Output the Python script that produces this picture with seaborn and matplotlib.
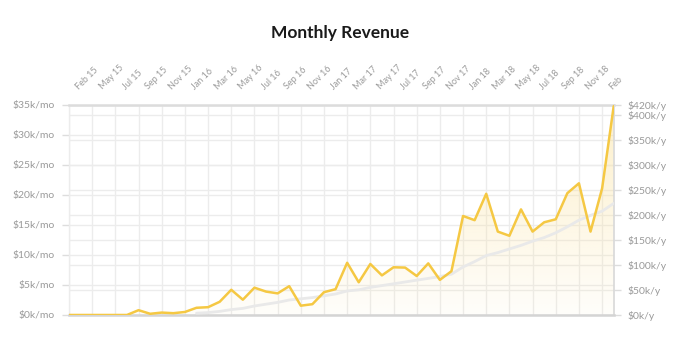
import numpy as np
import pandas as pd
import matplotlib
matplotlib.use("Agg")
import matplotlib.pyplot as plt
import seaborn as sns

# ---- data (values in $k per month) ----
revenue = [0, 0, 0, 0, 0, 0, 0.8, 0.2, 0.4, 0.3, 0.5, 1.2,
           1.3, 2.2, 4.2, 2.55, 4.55, 3.9, 3.6, 4.8, 1.55, 1.8, 3.8, 4.3,
           8.7, 5.45, 8.5, 6.6, 7.95, 7.9, 6.5, 8.6, 5.85, 7.3, 16.5, 15.8,
           20.2, 13.9, 13.2, 17.6, 13.9, 15.45, 15.95, 20.3, 21.95, 13.9, 21.1, 34.8]
trend = [np.nan] * 11 + [0.3, 0.4, 0.6, 0.9, 1.1, 1.5, 1.8, 2.1, 2.5, 2.7, 2.9, 3.2,
                         3.5, 4.0, 4.2, 4.6, 4.9, 5.2, 5.5, 5.8, 6.1, 6.4, 6.8, 8.0,
                         8.9, 9.9, 10.4, 11.0, 11.6, 12.3, 12.9, 13.7, 14.7, 15.8, 16.6, 17.3, 18.6]
tick_labels = ["Feb 15", "May 15", "Jul 15", "Sep 15", "Nov 15", "Jan 16", "Mar 16", "May 16",
               "Jul 16", "Sep 16", "Nov 16", "Jan 17", "Mar 17", "May 17", "Jul 17", "Sep 17",
               "Nov 17", "Jan 18", "Mar 18", "May 18", "Jul 18", "Sep 18", "Nov 18", "Feb"]
left_ticks = [0, 5, 10, 15, 20, 25, 30, 35]
right_ticks = [0, 50, 100, 150, 200, 250, 300, 350, 400, 420]

df = pd.DataFrame({"month": np.arange(len(revenue)), "revenue": revenue, "trend": trend})

sns.set_theme(style="white")
plt.rcParams["font.family"] = ["Lato", "DejaVu Sans"]

YELLOW = "#F5C843"
GRID = "#ececec"
LABEL = "#9a9a9a"

fig = plt.figure(figsize=(6.8, 3.45), dpi=100)
ax = fig.add_axes([0.1015, 0.087, 0.8010, 0.6087])

n = len(revenue)
ax.set_xlim(0, n - 1)
ax.set_ylim(0, 35)

# gradient fill under the revenue line
grad = np.zeros((256, 2, 4))
rgb = matplotlib.colors.to_rgb("#FBE3A0")
grad[..., 0], grad[..., 1], grad[..., 2] = rgb
grad[..., 3] = np.linspace(0.55, 0.05, 256)[:, None]
im = ax.imshow(grad, extent=[0, n - 1, 0, 35], origin="upper", aspect="auto", zorder=1)
poly = ax.fill_between(df["month"], df["revenue"], 0, color="none", lw=0)
im.set_clip_path(poly.get_paths()[0], transform=ax.transData)

sns.lineplot(data=df, x="month", y="trend", ax=ax, color="#e9e9e9", lw=2, zorder=3)
sns.lineplot(data=df, x="month", y="revenue", ax=ax, color=YELLOW, lw=1.8, zorder=4)

# left axis
ax.set_yticks(left_ticks)
ax.set_yticklabels([f"${v}k/mo" for v in left_ticks])
ax.tick_params(axis="y", which="major", left=True, length=5, width=1, color="#dddddd",
               labelsize=7.5, labelcolor=LABEL, pad=5)
ax.set_ylabel("")
ax.set_xlabel("")

# x axis: labels on top, gridlines every 2 months
ax.set_xticks(np.arange(0, n - 1, 2), minor=True)
ax.set_xticks(np.arange(1, n, 2))
ax.set_xticklabels(tick_labels)
ax.xaxis.tick_top()
ax.tick_params(axis="x", which="both", length=0, labelsize=6.5, labelcolor=LABEL, pad=10)
for lab in ax.get_xticklabels():
    lab.set_rotation(45)
    lab.set_ha("left")
    lab.set_va("bottom")
    lab.set_rotation_mode("anchor")
ax.grid(True, which="minor", axis="x", color=GRID, lw=1)
ax.grid(True, which="major", axis="y", color=GRID, lw=1)
ax.grid(False, which="major", axis="x")
ax.set_axisbelow(True)

for side in ["left"]:
    ax.spines[side].set_color(GRID)
    ax.spines[side].set_linewidth(1)
ax.spines["top"].set_color("#dcdcdc")
ax.spines["top"].set_linewidth(1.8)
ax.spines["bottom"].set_color("#d4d4d4")
ax.spines["bottom"].set_linewidth(1.8)
ax.spines["right"].set_color("#d8d8d8")
ax.spines["right"].set_linewidth(1.2)

# right axis ($k per year)
ax2 = ax.twinx()
ax2.set_ylim(0, 420)
ax2.set_yticks(right_ticks)
ax2.set_yticklabels([f"${v}k/y" for v in right_ticks])
ax2.tick_params(axis="y", right=True, length=5, width=1, color="#dddddd",
                labelsize=7.5, labelcolor=LABEL, pad=5)
ax2.grid(True, axis="y", color=GRID, lw=1)
ax2.set_zorder(0)
ax.set_zorder(1)
ax.patch.set_visible(False)
for s in ax2.spines.values():
    s.set_visible(False)

fig.text(0.5, 0.905, "Monthly Revenue", ha="center", va="center",
         fontsize=12.5, fontweight="bold", color="#1a1a1a")

fig.savefig("out.png", dpi=100, facecolor="white")
